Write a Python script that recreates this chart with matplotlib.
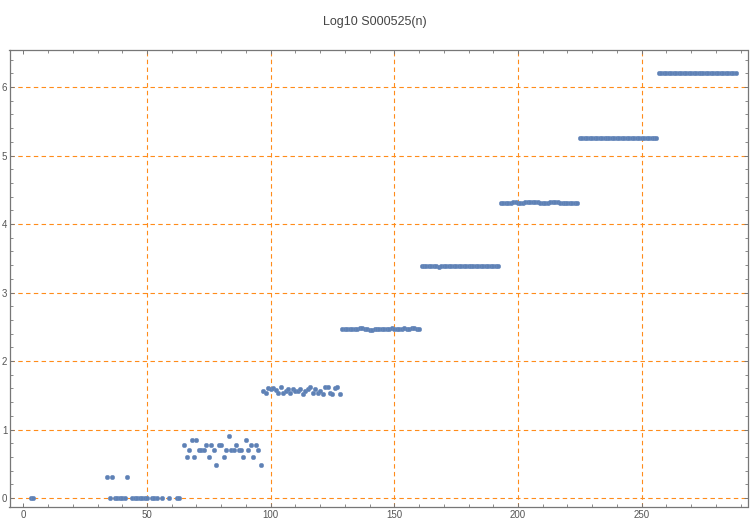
import matplotlib
matplotlib.use("Agg")
import matplotlib.pyplot as plt
from matplotlib.ticker import MultipleLocator

# ---- data ----
n_small = [3, 4]
v_small = [0, 0]

n_b2 = [34, 35, 36, 37, 38, 39, 40, 41, 42, 44, 45, 46, 47, 48, 49, 50, 52, 53, 54, 56, 59, 62, 63]
v_b2 = [0.301, 0, 0.301, 0, 0, 0, 0, 0, 0.301, 0, 0, 0, 0, 0, 0, 0, 0, 0, 0, 0, 0, 0, 0]

n_b3 = list(range(65, 97))
v_b3 = [0.778, 0.602, 0.699, 0.845, 0.602, 0.845, 0.699, 0.699, 0.699, 0.778,
        0.602, 0.778, 0.699, 0.477, 0.778, 0.778, 0.602, 0.699, 0.903, 0.699,
        0.699, 0.778, 0.699, 0.699, 0.602, 0.845, 0.699, 0.778, 0.602, 0.778,
        0.699, 0.477]

n_b4 = list(range(97, 129))
v_b4 = [1.568, 1.539, 1.603, 1.587, 1.603, 1.573, 1.539, 1.627, 1.539, 1.568,
        1.587, 1.539, 1.587, 1.556, 1.556, 1.587, 1.526, 1.568, 1.587, 1.617,
        1.539, 1.587, 1.539, 1.568, 1.526, 1.617, 1.617, 1.539, 1.526, 1.603,
        1.617, 1.515]

n_b5 = list(range(129, 161))
v_b5 = [2.465, 2.462, 2.470, 2.465, 2.470, 2.472, 2.470, 2.478, 2.478, 2.475,
        2.470, 2.452, 2.458, 2.462, 2.468, 2.470, 2.464, 2.470, 2.468, 2.472,
        2.476, 2.470, 2.464, 2.470, 2.472, 2.476, 2.470, 2.470, 2.476, 2.476,
        2.470, 2.468]

n_b6 = list(range(161, 193))
v_b6 = [3.388, 3.386, 3.388, 3.386, 3.388, 3.386, 3.386, 3.368, 3.386, 3.388,
        3.386, 3.388, 3.386, 3.388, 3.386, 3.388, 3.386, 3.388, 3.386, 3.388,
        3.386, 3.388, 3.386, 3.388, 3.386, 3.388, 3.386, 3.388, 3.386, 3.388,
        3.386, 3.388]

n_b7 = list(range(193, 225))
v_b7 = [4.300, 4.302, 4.300, 4.302, 4.300, 4.318, 4.320, 4.300, 4.302, 4.300,
        4.320, 4.322, 4.320, 4.322, 4.320, 4.322, 4.300, 4.302, 4.300, 4.300,
        4.318, 4.320, 4.318, 4.320, 4.310, 4.310, 4.308, 4.310, 4.310, 4.308,
        4.310, 4.310]

n_b8 = list(range(225, 257))
v_b8 = [5.255] * 32

n_b9 = list(range(257, 289))
v_b9 = [6.205] * 32

x_major = [0, 50, 100, 150, 200, 250]
y_major = [0, 1, 2, 3, 4, 5, 6]
title = "Log10 S000525(n)"

# ---- figure ----
fig = plt.figure(figsize=(7.5, 5.25), dpi=100)
ax = fig.add_axes([9.5 / 750, 1 - 507 / 525, (747.5 - 9.5) / 750, (507 - 50) / 525])

xs = n_small + n_b2 + n_b3 + n_b4 + n_b5 + n_b6 + n_b7 + n_b8 + n_b9
ys = v_small + v_b2 + v_b3 + v_b4 + v_b5 + v_b6 + v_b7 + v_b8 + v_b9
ax.plot(xs, ys, 'o', ms=3.3, color='#5E81B5', mec='#6E8EC0', mew=0.3, zorder=3)

ax.set_xlim(-5.6, 292.8)
ax.set_ylim(-0.13, 6.54)

ax.set_xticks(x_major)
ax.set_yticks(y_major)
ax.xaxis.set_minor_locator(MultipleLocator(10))
ax.yaxis.set_minor_locator(MultipleLocator(0.2))

grid_color = '#FF8C1A'
for xv in x_major[1:]:
    ax.axvline(xv, color=grid_color, lw=0.8, ls=(0, (4, 3)), zorder=1)
for yv in y_major:
    ax.axhline(yv, color=grid_color, lw=0.8, ls=(0, (4, 3)), zorder=1)

frame_color = '#777777'
for s in ax.spines.values():
    s.set_color(frame_color)
    s.set_linewidth(0.9)

ax.tick_params(which='both', direction='in', top=True, right=True,
               color=frame_color, labelcolor='#555555', labelsize=7)
ax.tick_params(which='major', length=3.0, width=0.7, pad=2)
ax.tick_params(which='minor', length=1.9, width=0.6)
for lab in ax.get_xticklabels() + ax.get_yticklabels():
    lab.set_family('Liberation Sans')
ax.tick_params(axis='y', pad=1.5)

fig.text(0.5, 1 - 22 / 525, title, ha='center', va='center',
         fontsize=9, color='#444444', family='Liberation Sans')

fig.savefig('out.png', dpi=100)
